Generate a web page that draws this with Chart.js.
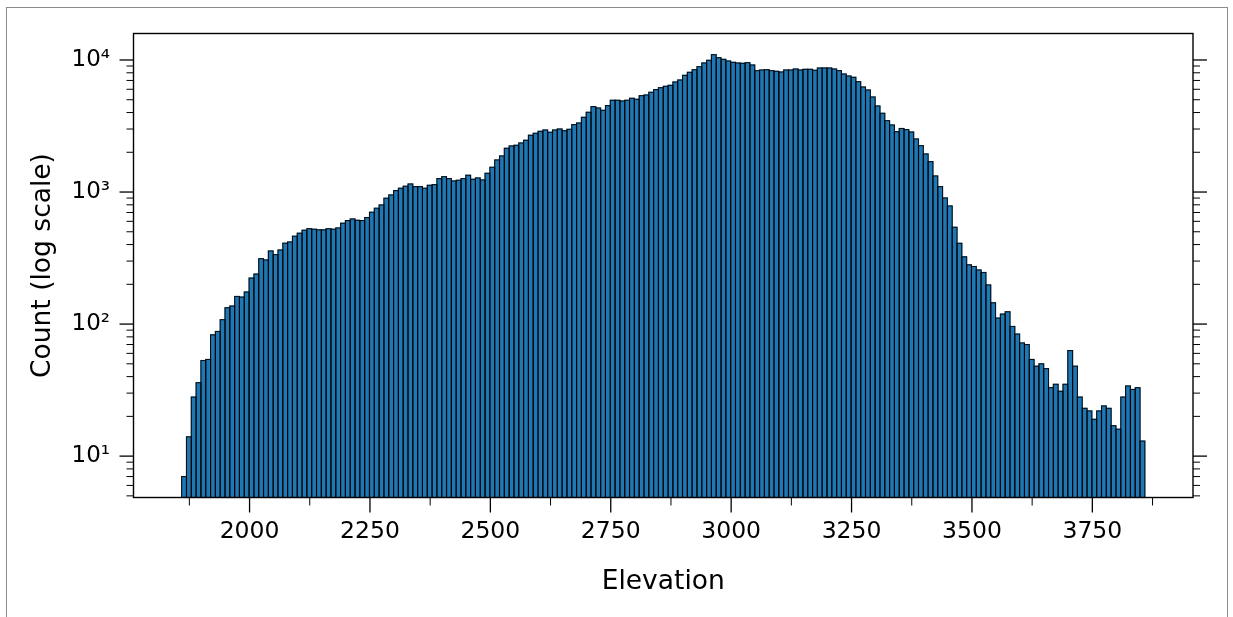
<!DOCTYPE html>
<html>
<head>
<meta charset="utf-8">
<script src="https://cdn.jsdelivr.net/npm/chart.js@4.4.1/dist/chart.umd.min.js"></script>
<style>
  html, body { margin: 0; padding: 0; background: #fff; }
  #wrap { position: relative; width: 1233px; height: 617px; overflow: hidden; }
  #frame { position: absolute; left: 6px; top: 7px; width: 1222px; height: 640px; border: 1px solid #8c8c8c; box-sizing: border-box; }
  canvas { position: absolute; left: 0; top: 0; }
</style>
</head>
<body>
<div id="wrap">
  <div id="frame"></div>
  <canvas id="hist" width="1233" height="617"></canvas>
</div>
<script>
// histogram bins: 200 bins of 10 m starting at 1859
const binStart = 1859;
const binWidth = 10;
const counts = [
  7, 14, 28, 36, 53, 54, 83, 88, 108, 133, 137, 162, 160, 175, 223, 239, 313, 306, 358, 336, 364, 410, 419, 463, 488,
  514, 528, 523, 517, 517, 528, 523, 535, 581, 608, 626, 611, 608, 641, 703, 754, 799, 898, 951, 1025, 1069, 1107, 1151, 1099, 1099,
  1069, 1125, 1138, 1264, 1308, 1264, 1213, 1228, 1264, 1341, 1249, 1279, 1236, 1387, 1540, 1750, 1877, 2145, 2234, 2260, 2354, 2467, 2692, 2786, 2884,
  2951, 2836, 2951, 3003, 2916, 2986, 3240, 3334, 3681, 4018, 4435, 4330, 4159, 4512, 4955, 4955, 4893, 4955, 5129, 5039, 5370, 5433, 5693, 5964, 6174,
  6318, 6428, 6816, 7057, 7654, 8065, 8450, 8902, 9491, 9943, 10975, 10416, 10116, 9827, 9601, 9491, 9436, 9546, 9166, 8304, 8402, 8450, 8304, 8209, 8114,
  8402, 8402, 8550, 8402, 8499, 8499, 8353, 8699, 8699, 8699, 8550, 8304, 7834, 7567, 7393, 6855, 6245, 5928, 5247, 4485, 3948, 3473, 3221, 2868, 3030,
  2969, 2851, 2523, 2246, 1943, 1700, 1324, 1099, 902, 785, 541, 409, 323, 281, 273, 257, 246, 198, 145, 111, 119, 124, 96, 84, 72,
  70, 54, 48, 50, 46, 33, 35, 31, 35, 63, 48, 28, 23, 22, 19, 22, 24, 23, 17, 16, 28, 34, 32, 33, 13
];

const xMajor = [2000, 2250, 2500, 2750, 3000, 3250, 3500, 3750];
const xMinor = [1875, 2125, 2375, 2625, 2875, 3125, 3375, 3625, 3875];
const yMajor = [10, 100, 1000, 10000];
const yTickLabels = ['10¹', '10²', '10³', '10⁴'];

const xRange = [1759, 3959];
const yRange = [4.86, 15870];

// minor log ticks: 2..9 times each decade, kept inside the axis range
const yMinor = [1, 10, 100, 1000]
  .flatMap(d => [2, 3, 4, 5, 6, 7, 8, 9].map(m => m * d))
  .filter(v => v > yRange[0] && v < yRange[1]);

const histData = counts.map((c, i) => ({ x: binStart + binWidth * (i + 0.5), y: c }));

// thin dark outline around every bar, centred on the bin edges
const barEdges = {
  id: 'barEdges',
  afterDatasetsDraw(chart) {
    const { ctx } = chart;
    const bars = chart.getDatasetMeta(0).data;
    ctx.save();
    ctx.strokeStyle = 'rgba(0, 0, 0, 0.88)';
    ctx.lineWidth = 1.1;
    bars.forEach(b => {
      const left = b.x - b.width / 2;
      ctx.strokeRect(left, b.y, b.width, b.base - b.y);
    });
    ctx.restore();
  }
};

// spines + outward tick marks (major/minor lengths differ, so drawn here)
const axisFrame = {
  id: 'axisFrame',
  afterDraw(chart) {
    const { ctx, chartArea: a, scales: { x, y } } = chart;
    ctx.save();
    ctx.strokeStyle = '#000';

    function seg(x0, y0, x1, y1, w) {
      ctx.lineWidth = w;
      ctx.beginPath();
      ctx.moveTo(x0, y0);
      ctx.lineTo(x1, y1);
      ctx.stroke();
    }

    yMajor.forEach(v => {
      const py = y.getPixelForValue(v);
      seg(a.left - 14, py, a.left, py, 1.3);
      seg(a.right, py, a.right + 14, py, 1.3);
    });
    yMinor.forEach(v => {
      const py = y.getPixelForValue(v);
      seg(a.left - 7, py, a.left, py, 1.0);
      seg(a.right, py, a.right + 7, py, 1.0);
    });
    xMajor.forEach(v => {
      const px = x.getPixelForValue(v);
      seg(px, a.bottom, px, a.bottom + 15, 1.3);
    });
    xMinor.forEach(v => {
      const px = x.getPixelForValue(v);
      seg(px, a.bottom, px, a.bottom + 8, 1.0);
    });

    ctx.lineWidth = 1.4;
    ctx.strokeRect(a.left, a.top, a.right - a.left, a.bottom - a.top);
    ctx.restore();
  }
};

new Chart(document.getElementById('hist'), {
  type: 'bar',
  data: {
    datasets: [{
      data: histData,
      backgroundColor: '#1f77b4',
      borderWidth: 0,
      inflateAmount: 0.5,
      barPercentage: 1,
      categoryPercentage: 1
    }]
  },
  options: {
    responsive: false,
    animation: false,
    devicePixelRatio: 1,
    layout: { padding: { top: 33.5, right: 40, left: 0, bottom: 0 } },
    plugins: {
      legend: { display: false },
      tooltip: { enabled: false }
    },
    scales: {
      x: {
        type: 'linear',
        min: xRange[0],
        max: xRange[1],
        offset: false,
        bounds: 'data',
        grid: { display: false, drawTicks: false },
        border: { display: false },
        afterBuildTicks: s => { s.ticks = xMajor.map(v => ({ value: v })); },
        afterFit: s => { s.height = 119.5; },
        ticks: {
          autoSkip: false,
          maxRotation: 0,
          padding: 20,
          color: '#000',
          font: { family: 'DejaVu Sans', size: 23.5 },
          callback: v => String(v)
        },
        title: {
          display: true,
          text: 'Elevation',
          color: '#000',
          font: { family: 'DejaVu Sans', size: 26.5 },
          padding: { top: 0, bottom: 19 }
        }
      },
      y: {
        type: 'logarithmic',
        min: yRange[0],
        max: yRange[1],
        bounds: 'data',
        grid: { display: false, drawTicks: true, tickLength: 14 },
        border: { display: false },
        afterBuildTicks: s => { s.ticks = yMajor.map(v => ({ value: v })); },
        afterFit: s => { s.width = 133.5; },
        ticks: {
          autoSkip: false,
          padding: 9.5,
          color: '#000',
          font: { family: 'DejaVu Sans', size: 23 },
          callback: v => yTickLabels[yMajor.indexOf(v)]
        },
        title: {
          display: true,
          text: 'Count (log scale)',
          color: '#000',
          font: { family: 'DejaVu Sans', size: 26.5 },
          padding: { top: 27, bottom: 0 }
        }
      }
    }
  },
  plugins: [barEdges, axisFrame]
});
</script>
</body>
</html>
